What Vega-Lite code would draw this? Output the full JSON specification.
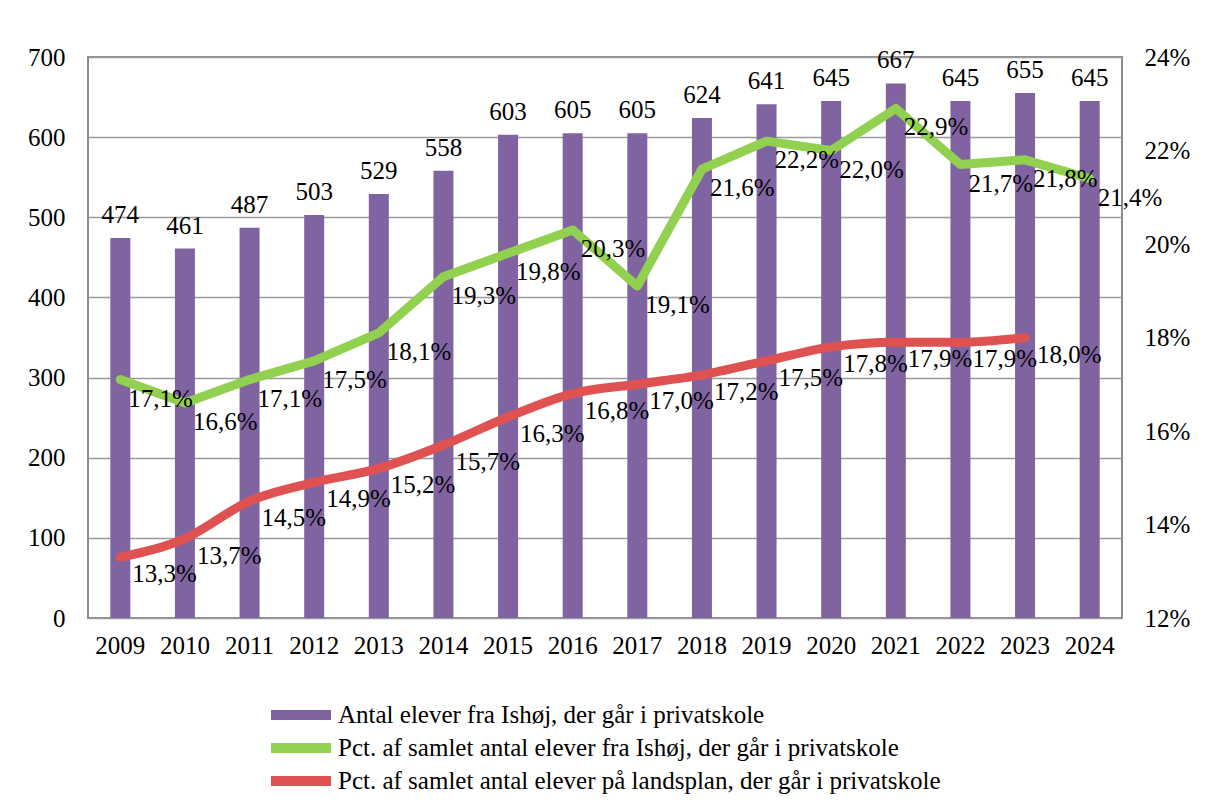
{
  "$schema": "https://vega.github.io/schema/vega-lite/v6.json",
  "width": 1034,
  "height": 561,
  "autosize": {"type": "none"},
  "padding": {"left": 88, "top": 57, "right": 84, "bottom": 194},
  "background": "white",
  "data": {
    "values": [
      {"year": "2009", "antal": 474, "ishoj": 0.171, "land": 0.133},
      {"year": "2010", "antal": 461, "ishoj": 0.166, "land": 0.137},
      {"year": "2011", "antal": 487, "ishoj": 0.171, "land": 0.145},
      {"year": "2012", "antal": 503, "ishoj": 0.175, "land": 0.149},
      {"year": "2013", "antal": 529, "ishoj": 0.181, "land": 0.152},
      {"year": "2014", "antal": 558, "ishoj": 0.193, "land": 0.157},
      {"year": "2015", "antal": 603, "ishoj": 0.198, "land": 0.163},
      {"year": "2016", "antal": 605, "ishoj": 0.203, "land": 0.168},
      {"year": "2017", "antal": 605, "ishoj": 0.191, "land": 0.170},
      {"year": "2018", "antal": 624, "ishoj": 0.216, "land": 0.172},
      {"year": "2019", "antal": 641, "ishoj": 0.222, "land": 0.175},
      {"year": "2020", "antal": 645, "ishoj": 0.220, "land": 0.178},
      {"year": "2021", "antal": 667, "ishoj": 0.229, "land": 0.179},
      {"year": "2022", "antal": 645, "ishoj": 0.217, "land": 0.179},
      {"year": "2023", "antal": 655, "ishoj": 0.218, "land": 0.180},
      {"year": "2024", "antal": 645, "ishoj": 0.214, "land": null}
    ]
  },
  "encoding": {
    "x": {
      "field": "year", "type": "ordinal", "title": null,
      "scale": {"paddingInner": 0, "paddingOuter": 0},
      "axis": {"labelAngle": 0, "ticks": false, "domain": false, "labelPadding": 15, "grid": false}
    }
  },
  "layer": [
    {
      "layer": [
        {
          "mark": {"type": "bar", "size": 20},
          "encoding": {
            "y": {
              "field": "antal", "type": "quantitative", "title": null,
              "scale": {"domain": [0, 700]},
              "axis": {"values": [0, 100, 200, 300, 400, 500, 600, 700], "ticks": false, "domain": false, "labelPadding": 23, "grid": true}
            },
            "color": {
              "datum": "Antal elever fra Ishøj, der går i privatskole",
              "scale": {
                "domain": [
                  "Antal elever fra Ishøj, der går i privatskole",
                  "Pct. af samlet antal elever fra Ishøj, der går i privatskole",
                  "Pct. af samlet antal elever på landsplan, der går i privatskole"
                ],
                "range": ["#8064A2", "#92D050", "#E05252"]
              },
              "legend": {
                "title": null, "orient": "none", "legendX": 178, "legendY": 646,
                "symbolType": "stroke", "symbolStrokeWidth": 10, "symbolSize": 3600,
                "clipHeight": 24, "rowPadding": 8,
                "labelFont": "Liberation Serif", "labelFontSize": 25, "labelColor": "black",
                "labelOffset": 2, "labelLimit": 900
              }
            }
          }
        },
        {
          "mark": {"type": "text", "baseline": "bottom", "dy": -10, "font": "Liberation Serif", "fontSize": 25, "color": "black"},
          "encoding": {
            "y": {"field": "antal", "type": "quantitative"},
            "text": {"field": "antal", "type": "quantitative"}
          }
        }
      ]
    },
    {
      "layer": [
        {
          "mark": {"type": "line", "strokeWidth": 9, "strokeCap": "round", "strokeJoin": "round"},
          "encoding": {
            "y": {
              "field": "ishoj", "type": "quantitative", "title": null,
              "scale": {"domain": [0.12, 0.24]},
              "axis": {"orient": "right", "format": ".0%", "values": [0.12, 0.14, 0.16, 0.18, 0.2, 0.22, 0.24], "ticks": false, "domain": false, "labelPadding": 22, "grid": false}
            },
            "color": {"datum": "Pct. af samlet antal elever fra Ishøj, der går i privatskole"}
          }
        },
        {
          "mark": {"type": "line", "strokeWidth": 9, "strokeCap": "round", "strokeJoin": "round", "interpolate": "monotone"},
          "encoding": {
            "y": {"field": "land", "type": "quantitative"},
            "color": {"datum": "Pct. af samlet antal elever på landsplan, der går i privatskole"}
          }
        },
        {
          "mark": {"type": "text", "align": "left", "baseline": "middle", "dx": 8, "dy": 19, "font": "Liberation Serif", "fontSize": 25, "color": "black"},
          "encoding": {
            "y": {"field": "ishoj", "type": "quantitative"},
            "text": {"field": "ishoj", "type": "quantitative", "format": ".1%"}
          }
        },
        {
          "mark": {"type": "text", "align": "left", "baseline": "middle", "dx": 12, "dy": 17, "font": "Liberation Serif", "fontSize": 25, "color": "black"},
          "encoding": {
            "y": {"field": "land", "type": "quantitative"},
            "text": {"field": "land", "type": "quantitative", "format": ".1%"}
          }
        }
      ]
    }
  ],
  "resolve": {"scale": {"y": "independent"}},
  "config": {
    "locale": {"number": {"decimal": ",", "thousands": ".", "grouping": [3], "currency": ["", " kr."]}},
    "view": {"stroke": "#8C8C8C", "strokeWidth": 2},
    "axis": {
      "labelFont": "Liberation Serif", "labelFontSize": 25, "labelColor": "black",
      "gridColor": "#9A9A9A", "gridWidth": 1.5, "gridOpacity": 1
    }
  }
}
